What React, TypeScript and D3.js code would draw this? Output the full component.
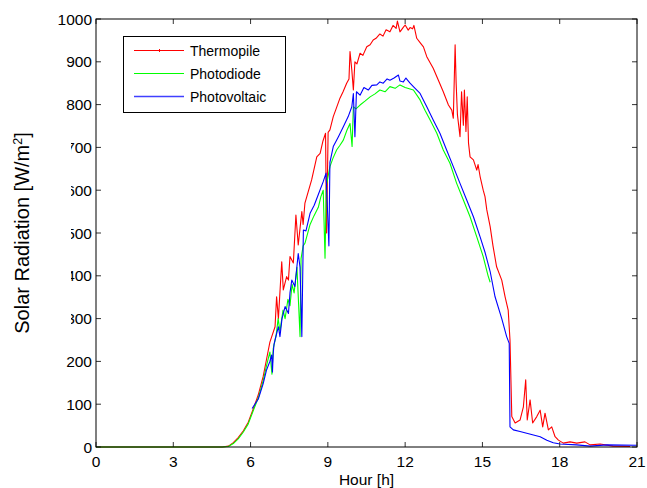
import React from "react";
import * as d3 from "d3";

// ---- data ----
const thermopileHours = [0, 4.9, 5.14, 5.33, 5.52, 5.72, 5.91, 6.11, 6.3, 6.49, 6.62, 6.75, 6.95, 7.01, 7.08, 7.21, 7.27, 7.4, 7.47, 7.53, 7.66, 7.76, 7.85, 7.99, 8.04, 8.11, 8.23, 8.37, 8.57, 8.7, 8.81, 8.91, 8.95, 9.01, 9.08, 9.21, 9.32, 9.47, 9.59, 9.73, 9.82, 9.86, 9.93, 9.99, 10.05, 10.13, 10.25, 10.36, 10.51, 10.64, 10.76, 10.87, 11.02, 11.14, 11.26, 11.41, 11.53, 11.65, 11.7, 11.8, 11.92, 12.0, 12.12, 12.19, 12.29, 12.34, 12.45, 12.58, 12.71, 12.84, 12.97, 13.09, 13.29, 13.48, 13.68, 13.81, 13.87, 13.94, 13.98, 14.03, 14.13, 14.19, 14.26, 14.3, 14.36, 14.41, 14.46, 14.52, 14.65, 14.78, 14.83, 14.91, 15.03, 15.1, 15.17, 15.3, 15.41, 15.55, 15.75, 15.88, 16.0, 16.07, 16.14, 16.27, 16.46, 16.59, 16.68, 16.74, 16.85, 16.95, 17.11, 17.24, 17.34, 17.43, 17.56, 17.69, 17.82, 17.95, 18.14, 18.4, 18.66, 18.98, 19.18, 19.57, 20.07, 20.73];
const thermopileValues = [0, 0, 2, 10, 22, 38, 58, 90, 122, 165, 205, 245, 281, 351, 300, 433, 367, 398, 390, 445, 430, 542, 472, 550, 520, 570, 595, 624, 678, 686, 715, 733, 500, 735, 741, 772, 790, 815, 830, 850, 860, 924, 881, 834, 900, 895, 920, 915, 935, 940, 951, 955, 965, 960, 975, 970, 985, 978, 995, 970, 980, 986, 974, 980, 977, 985, 955, 945, 935, 912, 898, 885, 857, 830, 799, 787, 768, 940, 850, 776, 725, 830, 752, 834, 737, 818, 710, 678, 671, 647, 660, 632, 600, 585, 554, 515, 470, 421, 390, 351, 320, 250, 71, 56, 63, 94, 157, 63, 110, 56, 71, 86, 47, 79, 40, 47, 24, 16, 9, 12, 9, 12, 5, 7, 2, 1];

const photodiodeHours = [0, 4.9, 5.14, 5.33, 5.52, 5.72, 5.91, 6.11, 6.3, 6.49, 6.62, 6.75, 6.83, 6.88, 6.99, 7.07, 7.14, 7.26, 7.34, 7.45, 7.53, 7.61, 7.69, 7.8, 7.92, 7.96, 8.04, 8.11, 8.31, 8.46, 8.63, 8.73, 8.82, 8.89, 8.94, 9.08, 9.2, 9.34, 9.47, 9.6, 9.74, 9.86, 9.94, 9.99, 10.09, 10.25, 10.44, 10.64, 10.83, 11.02, 11.22, 11.41, 11.61, 11.8, 12.0, 12.32, 12.58, 12.77, 12.97, 13.23, 13.48, 13.74, 14.0, 14.26, 14.52, 14.78, 15.03, 15.22, 15.3];
const photodiodeValues = [0, 0, 1, 8, 19, 35, 54, 86, 115, 155, 190, 222, 170, 230, 260, 300, 270, 320, 300, 345, 330, 380, 360, 420, 258, 440, 470, 476, 520, 540, 560, 585, 600, 441, 610, 655, 675, 694, 705, 717, 740, 756, 702, 795, 790, 799, 808, 818, 825, 834, 830, 842, 838, 846, 840, 834, 811, 787, 764, 733, 694, 663, 616, 577, 538, 491, 445, 400, 385];

const photovoltaicHours = [6.06, 6.3, 6.49, 6.62, 6.75, 6.82, 6.85, 6.88, 6.91, 6.95, 7.08, 7.14, 7.22, 7.34, 7.47, 7.53, 7.6, 7.72, 7.85, 7.92, 7.99, 8.05, 8.15, 8.31, 8.47, 8.63, 8.82, 8.93, 9.04, 9.08, 9.21, 9.41, 9.6, 9.79, 9.93, 9.99, 10.05, 10.11, 10.25, 10.4, 10.57, 10.71, 10.9, 11.02, 11.15, 11.3, 11.41, 11.57, 11.74, 11.8, 11.93, 12.03, 12.19, 12.32, 12.58, 12.84, 13.09, 13.35, 13.61, 13.87, 14.13, 14.39, 14.65, 14.91, 15.1, 15.3, 15.49, 15.75, 15.94, 16.04, 16.07, 16.2, 16.46, 16.72, 16.98, 17.24, 17.5, 17.75, 18.01, 18.66, 19.18, 19.83, 20.99];
const photovoltaicValues = [90, 112, 148, 180, 200, 215, 175, 219, 240, 250, 281, 258, 300, 328, 312, 360, 390, 375, 452, 420, 258, 507, 505, 546, 565, 590, 620, 640, 470, 665, 702, 725, 748, 772, 795, 826, 725, 830, 822, 840, 834, 845, 846, 853, 850, 860, 857, 862, 869, 855, 853, 862, 850, 842, 826, 795, 764, 733, 694, 655, 616, 577, 538, 491, 455, 410, 351, 300, 258, 242, 47, 40, 36, 32, 28, 24, 16, 10, 7, 5, 2, 5, 4];

const xTicks = [0, 3, 6, 9, 12, 15, 18, 21];
const yTicks = [0, 100, 200, 300, 400, 500, 600, 700, 800, 900, 1000];
const seriesNames = ["Thermopile", "Photodiode", "Photovoltaic"];
const seriesColors = ["#ff0000", "#00ff00", "#0000ff"];

const W = 647;
const H = 488;
const M = { left: 96, right: 637, top: 19, bottom: 447 };

export default function App() {
  const x = d3.scaleLinear().domain([0, 21]).range([M.left, M.right]);
  const y = d3.scaleLinear().domain([0, 1000]).range([M.bottom, M.top]);
  const line = d3
    .line<[number, number]>()
    .x((d) => x(d[0]))
    .y((d) => y(d[1]));

  const series = [
    d3.zip(thermopileHours, thermopileValues) as [number, number][],
    d3.zip(photodiodeHours, photodiodeValues) as [number, number][],
    d3.zip(photovoltaicHours, photovoltaicValues) as [number, number][],
  ];

  const font = "Arial, 'Liberation Sans', Helvetica, sans-serif";

  return (
    <svg
      width={W}
      height={H}
      style={{ position: "absolute", left: 0, top: 0, background: "#fff" }}
      fontFamily={font}
    >
      <rect x={0} y={0} width={W} height={H} fill="#fff" />
      {/* data */}
      <g>
        {series.map((s, i) => (
          <path
            key={i}
            d={line(s) || ""}
            fill="none"
            stroke={seriesColors[i]}
            strokeWidth={1.1}
            strokeLinejoin="round"
          />
        ))}
      </g>
      {/* ticks */}
      <g stroke="#333" strokeWidth={1}>
        {xTicks.map((t) => (
          <g key={"x" + t}>
            <line x1={x(t)} x2={x(t)} y1={M.bottom} y2={M.bottom - 5} />
            <line x1={x(t)} x2={x(t)} y1={M.top} y2={M.top + 5} />
          </g>
        ))}
        {yTicks.map((t) => (
          <g key={"y" + t}>
            <line x1={M.left} x2={M.left + 5} y1={y(t)} y2={y(t)} />
            <line x1={M.right} x2={M.right - 5} y1={y(t)} y2={y(t)} />
          </g>
        ))}
      </g>
      <rect
        x={M.left}
        y={M.top}
        width={M.right - M.left}
        height={M.bottom - M.top}
        fill="none"
        stroke="#000"
        strokeWidth={1}
      />
      {/* tick labels */}
      <g fontSize={15.5} fill="#000">
        {xTicks.map((t) => (
          <text key={"xl" + t} x={x(t)} y={M.bottom + 20} textAnchor="middle">
            {t}
          </text>
        ))}
        {yTicks.map((t) => (
          <text key={"yl" + t} x={M.left - 4} y={y(t) + 5.5} textAnchor="end">
            {t}
          </text>
        ))}
      </g>
      {/* y label (its box hides part of some tick labels) */}
      <rect x={0} y={122} width={71} height={216} fill="#fff" />
      <text
        transform={`translate(29, ${(M.top + M.bottom) / 2}) rotate(-90)`}
        textAnchor="middle"
        fontSize={20}
        fill="#000"
      >
        Solar Radiation [W/m<tspan dy={-7} fontSize={12.5}>2</tspan>
        <tspan dy={7}>]</tspan>
      </text>
      <text x={(M.left + M.right) / 2} y={H - 3} textAnchor="middle" fontSize={15.5} fill="#000">
        Hour [h]
      </text>
      {/* legend */}
      <g>
        <rect x={123.5} y={36.5} width={162} height={76} fill="#fff" stroke="#000" strokeWidth={1} />
        {seriesNames.map((n, i) => {
          const ly = 50.5 + i * 23;
          return (
            <g key={n}>
              <line
                x1={134}
                x2={184}
                y1={ly}
                y2={ly}
                stroke={seriesColors[i]}
                strokeWidth={i === 2 ? 1.6 : 1.1}
                strokeOpacity={i === 2 ? 0.75 : 1}
              />
              {i === 0 && <line x1={159.5} x2={159.5} y1={ly - 1.5} y2={ly + 1.5} stroke={seriesColors[i]} />}
              <text x={190} y={ly + 5} fontSize={14} fill="#000">
                {n}
              </text>
            </g>
          );
        })}
      </g>
    </svg>
  );
}
